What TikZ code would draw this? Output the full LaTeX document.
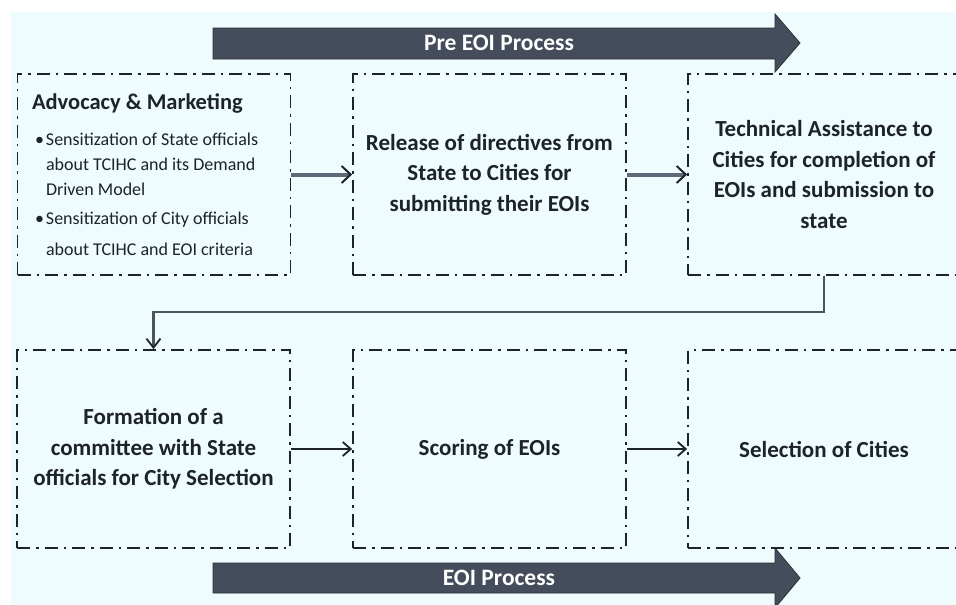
\documentclass[tikz,border=0pt]{standalone}
\usepackage{fontspec}
\setmainfont{Carlito}
\usetikzlibrary{arrows.meta,calc}
\definecolor{bgcyan}{HTML}{EEFCFD}
\definecolor{banner}{HTML}{454C5B}
\definecolor{linkgray}{HTML}{5F6878}
\definecolor{ink}{HTML}{1E2229}

\begin{document}
\begin{tikzpicture}[x=1pt, y=-1pt,
  stage/.style={draw=ink, line width=1.8pt, dash pattern=on 13pt off 6pt on 2.5pt off 6pt,
    minimum width=273pt, inner sep=0pt, align=center, text=ink,
    font=\fontsize{23}{30.5}\selectfont\bfseries},
  bar/.style={fill=banner, draw=banner!60!black, line width=0.8pt},
  bartext/.style={text=white, font=\fontsize{23.5}{26}\selectfont\bfseries},
  flow/.style={line width=4pt, draw=linkgray, -{Straight Barb[length=9pt, width=17pt, line width=2pt, color=ink]}},
  thinflow/.style={line width=1.8pt, draw=ink, -{Straight Barb[length=8pt, width=14pt]}},
  elbow/.style={line width=2.2pt, draw=linkgray!80!black, -{Straight Barb[length=9pt, width=14pt, line width=1.8pt, color=ink]}}]
\clip (0,0) rectangle (956,605);
\fill[bgcyan] (11,12) rectangle (956,605);

\filldraw[bar] (213,28) -- (775,28) -- (775,14) -- (800,43) -- (775,72) -- (775,59) -- (213,59) -- cycle;
\node[bartext] (pre) at (499,43) {Pre EOI Process};

\node[stage, minimum height=201pt, text width=244pt, align=flush left] (advocacy) at (154,174.5) {%
  {\fontsize{22.5}{24}\selectfont Advocacy \& Marketing}\\[11pt]
  \mdseries\fontsize{18}{25}\selectfont
  \hspace*{3pt}\makebox[11pt][l]{\textbullet}Sensitization of State officials\\
  \hspace*{14pt}about TCIHC and its Demand\\
  \hspace*{14pt}Driven Model\\[4pt]
  \hspace*{3pt}\makebox[11pt][l]{\textbullet}Sensitization of City officials\\
  \hspace*{14pt}about TCIHC and EOI criteria};
\node[stage, minimum height=201pt] (release) at (489.5,174.5) {Release of directives from\\State to Cities for\\submitting their EOIs};
\node[stage, minimum height=201pt, minimum width=272pt] (technical) at (824,174.5) {Technical Assistance to\\Cities for completion of\\EOIs and submission to\\state};

\node[stage, minimum height=198pt] (formation) at (153.5,449) {Formation of a\\committee with State\\officials for City Selection};
\node[stage, minimum height=198pt] (scoring) at (489.5,449) {Scoring of EOIs};
\node[stage, minimum height=198pt, minimum width=272pt] (selection) at (824,449) {Selection of Cities};

\draw[flow] (advocacy) -- (release);
\draw[flow] (release) -- (technical);
\coordinate (turn) at (824,312);
\draw[elbow] (technical.south) -- (turn) -| (formation.north);
\draw[thinflow] (formation) -- (scoring);
\draw[thinflow] (scoring) -- (selection);

\filldraw[bar] (213,563) -- (775,563) -- (775,548) -- (800,578) -- (775,608) -- (775,593) -- (213,593) -- cycle;
\node[bartext] (eoi) at (499,578) {EOI Process};
\end{tikzpicture}
\end{document}
